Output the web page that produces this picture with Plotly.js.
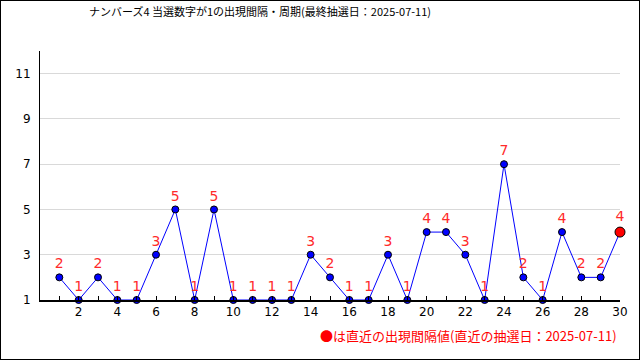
<!DOCTYPE html>
<html>
<head>
<meta charset="utf-8">
<script src="https://cdn.plot.ly/plotly-3.0.1.min.js"></script>
<style>
html,body{margin:0;padding:0;background:#fff;}
#chart{width:638px;height:358px;border:1px solid #000;}
</style>
</head>
<body>
<div id="chart"></div>
<script>
const titleText = "ナンバーズ4 当選数字が1の出現間隔・周期(最終抽選日：2025-07-11)";
const noteText = "●は直近の出現間隔値(直近の抽選日：2025-07-11)";
const draws = [1,2,3,4,5,6,7,8,9,10,11,12,13,14,15,16,17,18,19,20,21,22,23,24,25,26,27,28,29,30];
const intervals = [2,1,2,1,1,3,5,1,5,1,1,1,1,3,2,1,1,3,1,4,4,3,1,7,2,1,4,2,2,4];
const xTickVals = [2,4,6,8,10,12,14,16,18,20,22,24,26,28,30];
const yTickVals = [1,3,5,7,9,11];

const n = draws.length;
const markerColors = draws.map((d,i)=> i===n-1 ? "#ff0000" : "#0000ff");
const markerSizes = draws.map((d,i)=> i===n-1 ? 10 : 7);

const trace = {
  x: draws,
  y: intervals,
  mode: "lines+markers+text",
  text: intervals.map(String),
  textposition: "top center",
  textfont: {family: "DejaVu Sans", size: 14, color: "#ff2a2a"},
  line: {color: "#0000ff", width: 1},
  marker: {color: markerColors, size: markerSizes, opacity: 1, line: {color: "#000", width: 1}},
  cliponaxis: false,
  hoverinfo: "none"
};

const layout = {
  width: 638, height: 358,
  margin: {l: 39, r: 19, t: 50, b: 59},
  paper_bgcolor: "#fff", plot_bgcolor: "#fff",
  showlegend: false,
  title: {text: titleText, font: {family: "Noto Sans CJK JP", size: 11, color: "#000"},
          xref: "container", x: 88/638, xanchor: "left", y: 1 - 11/358, yanchor: "middle"},
  xaxis: {
    range: [0, 30], tickvals: xTickVals, ticks: "inside", ticklen: 4, tickcolor: "#000",
    minor: {dtick: 1, tick0: 0, ticks: "inside", ticklen: 4, tickcolor: "#000"},
    showgrid: false, zeroline: false, showline: true, linecolor: "#000", linewidth: 2,
    tickfont: {family: "DejaVu Sans", size: 12, color: "#000"}, fixedrange: true
  },
  yaxis: {
    range: [1, 12], tickvals: yTickVals, ticks: "", showgrid: true, gridcolor: "#d9d9d9", gridwidth: 1,
    zeroline: false, showline: true, linecolor: "#000", linewidth: 1,
    tickfont: {family: "DejaVu Sans", size: 12, color: "#000"}, ticklabelstandoff: 6, fixedrange: true
  },
  annotations: [{
    text: noteText, xref: "paper", yref: "paper", x: 1, y: 0, xanchor: "right", yanchor: "middle",
    xshift: -1, yshift: -35, showarrow: false,
    font: {family: "Noto Sans CJK JP", size: 13, color: "#ff0000"}
  }]
};

Plotly.newPlot("chart", [trace], layout, {displayModeBar: false, staticPlot: true});
</script>
</body>
</html>
